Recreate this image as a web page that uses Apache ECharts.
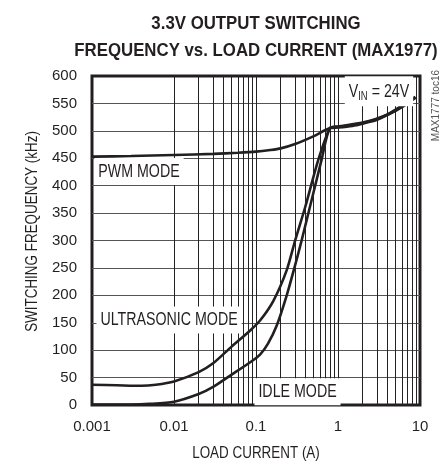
<!DOCTYPE html>
<html><head><meta charset="utf-8">
<script src="https://cdn.jsdelivr.net/npm/echarts@6/dist/echarts.min.js"></script>
<style>html,body{margin:0;padding:0;background:#fff}#c{width:442px;height:465px}</style>
</head><body><div id="c"></div>
<script>
// ---- data ----
const titleLines = ['3.3V OUTPUT SWITCHING', 'FREQUENCY vs. LOAD CURRENT (MAX1977)'];
const xAxisName = 'LOAD CURRENT (A)';
const yAxisName = 'SWITCHING FREQUENCY (kHz)';
const xTickLabels = ['0.001','0.01','0.1','1','10'];
const xMin = 0.001, xMax = 10;
const yMin = 0, yMax = 600, yStep = 50;
const minorGridX = [0.002,0.003,0.004,0.005,0.006,0.007,0.008,0.009,
                    0.02,0.03,0.04,0.05,0.06,0.07,0.08,0.09,
                    0.2,0.3,0.4,0.5,0.6,0.7,0.8,0.9,
                    2,3,4,5,6,7,8,9];
const pwmMode = [[0.001,453],[0.003,454],[0.01,456],[0.03,458],[0.06,460],[0.1,462],[0.15,465],[0.2,468],[0.3,476],[0.5,490],[0.8,505],[1,506],[1.5,509],[2,513],[3,520],[4,529],[5,536],[6,543],[7,550],[8,556],[8.8,560]];
const ultrasonicMode = [[0.001,37],[0.002,36],[0.004,35],[0.006,37],[0.01,43],[0.02,60],[0.03,76],[0.05,106],[0.085,136],[0.112,154],[0.163,190],[0.237,246],[0.3,300],[0.4,362],[0.575,447],[0.8,505],[1,508],[2,515],[4,530],[8,558],[8.8,562]];
const idleMode = [[0.001,1],[0.003,1],[0.005,2],[0.01,6],[0.02,20],[0.03,33],[0.05,55],[0.085,78],[0.112,92],[0.14,112],[0.179,145],[0.237,200],[0.3,255],[0.36,300],[0.63,447],[0.8,505],[1,507],[2,514],[4,529],[8,557],[8.8,561]];
const annotations = [
  {text:'PWM MODE', at:[0.00374,426]},
  {text:'ULTRASONIC MODE', at:[0.0087,155]},
  {text:'IDLE MODE', at:[0.321,24]},
  {text:'{n|V}{sub|IN}{n| = 24V}', at:[3.16,572]}
];
const sideNote = 'MAX1777 toc16';

// ---- chart ----
const FONT = "'Liberation Sans',Arial,sans-serif";
const INK = '#231f20';
const COND = 0.79;
const chart = echarts.init(document.getElementById('c'), null, {renderer:'canvas'});
const curveStyle = {color: INK, width: 2.6};
chart.setOption({
  animation: false,
  backgroundColor: '#fff',
  grid: {left: 92, right: 22, top: 76, bottom: 60, show: true, borderColor: INK, borderWidth: 3, backgroundColor:'#fff', containLabel:false},
  xAxis: {
    type: 'log', logBase: 10, min: xMin, max: xMax,
    axisLine: {show: false}, axisTick: {show: false},
    axisLabel: {fontFamily: FONT, fontSize: 15, color: INK, margin: 14,
      formatter: v => { const s = xTickLabels.find(t => Math.abs(parseFloat(t) - v) / v < 1e-6); return s || ''; }},
    splitLine: {show: true, showMinLine: false, showMaxLine: false, lineStyle: {color: '#222', width: 1}},
    minorTick: {show: false}, minorSplitLine: {show: false}
  },
  yAxis: {
    type: 'value', min: yMin, max: yMax, interval: yStep,
    axisLine: {show: false}, axisTick: {show: false},
    axisLabel: {fontFamily: FONT, fontSize: 15, color: INK, margin: 15},
    splitLine: {show: true, showMinLine: false, showMaxLine: false, lineStyle: {color: '#555', width: 1}}
  },
  series: [
    {type:'line', data: [], silent: true, z: 1,
     markLine: {silent: true, symbol: 'none', animation: false, label: {show: false},
       lineStyle: {color: '#222', width: 1, type: 'solid'},
       data: minorGridX.map(v => ({xAxis: v}))}},
    {name:'PWM', type:'line', data: pwmMode, smooth: 0.25, showSymbol: false, lineStyle: curveStyle, z: 3},
    {name:'ULTRASONIC', type:'line', data: ultrasonicMode, smooth: 0.25, showSymbol: false, lineStyle: curveStyle, z: 3},
    {name:'IDLE', type:'line', data: idleMode, smooth: 0.25, showSymbol: false, lineStyle: curveStyle, z: 3}
  ]
});

// text elements (condensed look via horizontal scaling), positioned through the chart's own scales
const gridRect = {l: 92, r: 442 - 22, t: 76, b: 465 - 60};
const cx = (gridRect.l + gridRect.r) / 2;
const graphics = [
  {type:'text', x: cx, y: 24, scaleX: 0.885, z: 10,
   style:{text: titleLines[0], align:'center', verticalAlign:'middle', font:'bold 19px ' + FONT, fill: INK}},
  {type:'text', x: cx, y: 51, scaleX: 0.885, z: 10,
   style:{text: titleLines[1], align:'center', verticalAlign:'middle', font:'bold 19px ' + FONT, fill: INK}},
  {type:'text', x: cx, y: 453, scaleX: COND, z: 10,
   style:{text: xAxisName, align:'center', verticalAlign:'middle', font:'17px ' + FONT, fill: INK}},
  {type:'text', x: 32, y: (gridRect.t + gridRect.b) / 2 - 9, rotation: Math.PI / 2, scaleX: COND, z: 10,
   style:{text: yAxisName, align:'center', verticalAlign:'middle', font:'17px ' + FONT, fill: INK}},
  {type:'text', x: 436, y: 70, rotation: Math.PI / 2, z: 10,
   style:{text: sideNote, align:'right', verticalAlign:'middle', font:'10px ' + FONT, fill:'#555'}}
];
annotations.forEach(a => {
  const p = chart.convertToPixel({gridIndex: 0}, a.at);
  graphics.push({type:'text', x: p[0], y: p[1], scaleX: COND, z: 20,
    style:{text: a.text, align:'center', verticalAlign:'middle', font:'18px ' + FONT, fill: INK,
      backgroundColor:'#fff', padding:[5,5,4,5],
      rich:{n:{font:'18px ' + FONT, fill: INK}, sub:{font:'12px ' + FONT, fill: INK, verticalAlign:'bottom', padding:[9,0,0,0]}}}});
});
chart.setOption({graphic: graphics});
</script></body></html>
